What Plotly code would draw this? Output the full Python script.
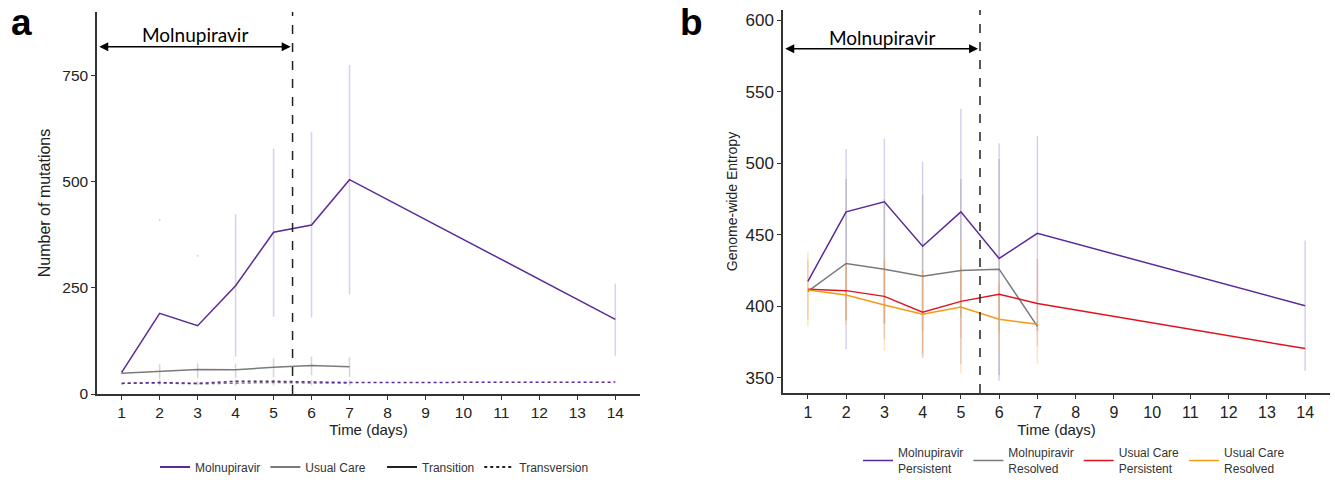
import plotly.graph_objects as go

# ---------------- Panel a data ----------------
days_a = [1, 2, 3, 4, 5, 6, 7, 14]
days_uc = [1, 2, 3, 4, 5, 6, 7]

mol_transition = [51, 190, 161, 255, 381, 398, 505, 176]
mol_transition_lo = [48, 190, 161, 88, 182, 180, 235, 90]
mol_transition_hi = [54, 190, 161, 424, 578, 617, 775, 260]
mol_outlier_days = [2, 3]
mol_outlier_vals = [410, 326]

uc_transition = [49, 54, 58, 57, 63, 67, 64]
uc_transition_lo = [46, 34, 37, 38, 40, 44, 40]
uc_transition_hi = [52, 70, 72, 72, 84, 88, 86]

mol_transversion = [25, 27, 25, 30, 30, 28, 27, 28]
uc_transversion = [25, 26, 24, 26, 27, 26, 26]
uc_transversion_lo = [23, 20, 20, 19, 20, 20, 20]
uc_transversion_hi = [27, 33, 30, 34, 34, 33, 33]

# ---------------- Panel b data ----------------
days_b = [1, 2, 3, 4, 5, 6, 7, 14]
mp = [417.5, 466, 473, 442, 466, 433.5, 451, 400.5]
mp_lo = [417.5, 370, 377, 364, 360, 348, 383, 355]
mp_hi = [417.5, 510, 517, 501, 538, 514, 519, 446]

mr = [410.5, 430, 426, 421, 425, 426, 386]
mr_lo = [410.5, 390, 388, 383, 393, 352, 383]
mr_hi = [410.5, 489, 475, 478, 489, 503, 389]

up = [412, 411, 407, 396, 403.5, 408.5, 402, 370.5]
up_lo = [391, 391, 388, 367, 378, 382, 372, 370.5]
up_hi = [433, 430, 432, 425, 428, 416, 433, 370.5]

ur = [411.5, 408, 401, 394.5, 399.5, 391, 387.5]
ur_lo = [386, 387, 369, 365, 353, 367, 360]
ur_hi = [438, 431, 432, 424, 446, 416, 416]

xticks = list(range(1, 15))
treat_end = 5.5

PURPLE = "#5B2A98"
GREY = "#7A7A7A"
RED = "#E0141E"
ORANGE = "#F39C12"
L_PURPLE = "rgba(160,135,215,0.4)"
L_GREY = "rgba(150,150,150,0.4)"
L_RED = "rgba(235,100,80,0.3)"
L_ORANGE = "rgba(250,195,90,0.4)"

W, H = 1335, 486


def px(xp):
    return xp / W


def py(yp):
    return 1 - yp / H


def err(y, lo, hi):
    return dict(type="data", symmetric=False,
                array=[h - v for v, h in zip(y, hi)],
                arrayminus=[v - l for v, l in zip(y, lo)])


def ebar(x, y, lo, hi, color, xa, ya):
    return go.Scatter(x=x, y=y, mode="markers", marker=dict(size=1, opacity=0),
                      error_y=dict(**err(y, lo, hi), color=color, thickness=1.5, width=0),
                      showlegend=False, hoverinfo="skip", xaxis=xa, yaxis=ya)


fig = go.Figure()

# ---- panel a error bars ----
fig.add_trace(ebar(days_a, mol_transition, mol_transition_lo, mol_transition_hi, L_PURPLE, "x", "y"))
fig.add_trace(ebar(days_uc, uc_transition, uc_transition_lo, uc_transition_hi, L_GREY, "x", "y"))
fig.add_trace(ebar(days_uc, uc_transversion, uc_transversion_lo, uc_transversion_hi, L_GREY, "x", "y"))
fig.add_trace(go.Scatter(x=mol_outlier_days, y=mol_outlier_vals, mode="markers",
                         marker=dict(size=2, color=L_PURPLE), showlegend=False,
                         hoverinfo="skip", xaxis="x", yaxis="y"))

# ---- panel a lines ----
fig.add_trace(go.Scatter(x=days_uc, y=uc_transversion, mode="lines",
                         line=dict(color=GREY, width=1.5, dash="dot"),
                         showlegend=False, xaxis="x", yaxis="y"))
fig.add_trace(go.Scatter(x=days_a, y=mol_transversion, mode="lines",
                         line=dict(color=PURPLE, width=1.5, dash="dot"),
                         showlegend=False, xaxis="x", yaxis="y"))
fig.add_trace(go.Scatter(x=days_uc, y=uc_transition, mode="lines",
                         line=dict(color=GREY, width=1.5), name="Usual Care",
                         showlegend=False, xaxis="x", yaxis="y"))
fig.add_trace(go.Scatter(x=days_a, y=mol_transition, mode="lines",
                         line=dict(color=PURPLE, width=1.5), name="Molnupiravir",
                         showlegend=False, xaxis="x", yaxis="y"))

# legend-only entries for panel a
for nm, col in [("Molnupiravir", PURPLE), ("Usual Care", GREY)]:
    fig.add_trace(go.Scatter(x=[None], y=[None], mode="lines", name=nm,
                             line=dict(color=col, width=2), legend="legend",
                             xaxis="x", yaxis="y"))
for nm, dsh in [("Transition", "solid"), ("Transversion", "dot")]:
    fig.add_trace(go.Scatter(x=[None], y=[None], mode="lines", name=nm,
                             line=dict(color="#222222", width=2, dash=dsh), legend="legend2",
                             xaxis="x", yaxis="y"))

# ---- panel b error bars ----
fig.add_trace(ebar(days_b, mp, mp_lo, mp_hi, L_PURPLE, "x2", "y2"))
fig.add_trace(ebar(days_uc, mr, mr_lo, mr_hi, L_GREY, "x2", "y2"))
fig.add_trace(ebar(days_b, up, up_lo, up_hi, L_RED, "x2", "y2"))
fig.add_trace(ebar(days_uc, ur, ur_lo, ur_hi, L_ORANGE, "x2", "y2"))

# ---- panel b lines ----
for nm, xs, ys, col in [("Molnupiravir<br>Persistent", days_b, mp, PURPLE),
                        ("Molnupiravir<br>Resolved", days_uc, mr, GREY),
                        ("Usual Care<br>Persistent", days_b, up, RED),
                        ("Usual Care<br>Resolved", days_uc, ur, ORANGE)]:
    fig.add_trace(go.Scatter(x=xs, y=ys, mode="lines", name=nm,
                             line=dict(color=col, width=1.5), legend="legend3",
                             xaxis="x2", yaxis="y2"))

FAM = "Liberation Sans"
INK = "#222222"
axis_common = dict(showline=True, linecolor="#333333", linewidth=1.5, ticks="outside",
                   ticklen=4, tickcolor="#333333", tickwidth=1.2, showgrid=False,
                   zeroline=False, automargin=False)

LEGFONT = dict(family=FAM, size=12, color="#333333")

fig.update_layout(
    width=W, height=H, margin=dict(l=0, r=0, t=0, b=0),
    paper_bgcolor="white", plot_bgcolor="white",
    xaxis=dict(domain=[px(97), px(640)], range=[0.35, 14.65], tickvals=xticks,
               tickfont=dict(family=FAM, size=15.5, color=INK),
               title=dict(text="Time (days)", standoff=0,
                          font=dict(family=FAM, size=15, color=INK)),
               anchor="y", **axis_common),
    yaxis=dict(domain=[py(394), py(12)], range=[0, 900],
               tickvals=[0, 250, 500, 750],
               tickfont=dict(family=FAM, size=15.5, color=INK),
               title=dict(text="Number of mutations", standoff=8,
                          font=dict(family=FAM, size=16, color=INK)),
               anchor="x", **axis_common),
    xaxis2=dict(domain=[px(783), px(1330)], range=[0.35, 14.65], tickvals=xticks,
                tickfont=dict(family=FAM, size=16, color=INK),
                title=dict(text="Time (days)", standoff=0,
                           font=dict(family=FAM, size=15, color=INK)),
                anchor="y2", **axis_common),
    yaxis2=dict(domain=[py(393), py(10)], range=[339.5, 607],
                tickvals=[350, 400, 450, 500, 550, 600],
                tickfont=dict(family=FAM, size=17, color=INK),
                title=dict(text="Genome-wide Entropy", standoff=5,
                           font=dict(family=FAM, size=14, color=INK)),
                anchor="x2", **axis_common),
    legend=dict(orientation="h", x=px(155), y=py(467), yanchor="middle",
                xanchor="left", font=LEGFONT, itemwidth=30, bgcolor="rgba(0,0,0,0)"),
    legend2=dict(orientation="h", x=px(382), y=py(467), yanchor="middle",
                 xanchor="left", font=LEGFONT, itemwidth=30, bgcolor="rgba(0,0,0,0)"),
    legend3=dict(orientation="h", x=px(858), y=py(461), yanchor="middle",
                 xanchor="left", font=LEGFONT, itemwidth=30, bgcolor="rgba(0,0,0,0)"),
    showlegend=True,
)

# vertical dashed lines
for xr, yr in [("x", "y domain"), ("x2", "y2 domain")]:
    fig.add_shape(type="line", xref=xr, yref=yr, x0=treat_end, x1=treat_end, y0=0, y1=1,
                  line=dict(color="#222222", width=1.5, dash="dash"))

# arrows with label
for xr, yr, ya, yt in [("x", "y", 818, 846), ("x2", "y2", 580, 588)]:
    fig.add_annotation(x=treat_end - 0.05, y=ya, ax=0.37, ay=ya, xref=xr, yref=yr,
                       axref=xr, ayref=yr, text="", showarrow=True, arrowhead=2,
                       arrowside="end+start", arrowsize=1.2, arrowwidth=1.5,
                       arrowcolor="black")
    fig.add_annotation(x=(0.35 + treat_end) / 2, y=yt, xref=xr, yref=yr,
                       text="Molnupiravir", showarrow=False, yanchor="middle",
                       xanchor="center", font=dict(family="Lato", size=19, color="black"))

# panel letters
fig.add_annotation(x=px(21.5), y=1, xref="paper", yref="paper", text="<b>a</b>",
                   xanchor="center", yanchor="top", showarrow=False,
                   font=dict(family=FAM, size=37, color="black"))
fig.add_annotation(x=px(692), y=1, xref="paper", yref="paper", text="<b>b</b>",
                   xanchor="center", yanchor="top", showarrow=False,
                   font=dict(family=FAM, size=37, color="black"))

fig.write_html("out.html", config={"displayModeBar": False},
               post_script="document.body.style.margin='0';")
